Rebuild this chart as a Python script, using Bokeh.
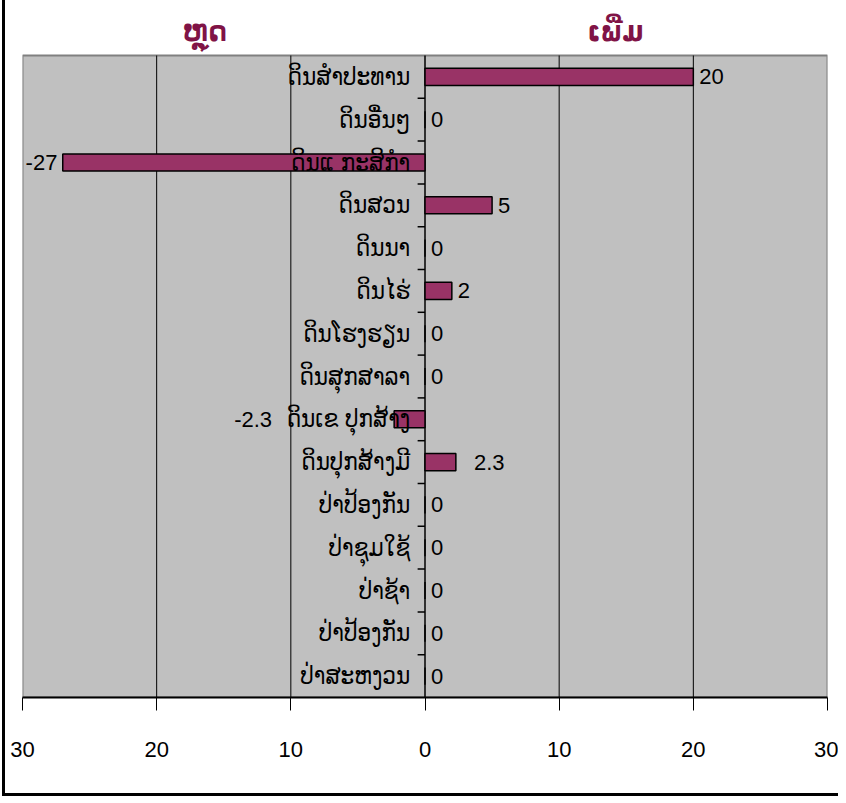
from bokeh.plotting import figure
from bokeh.models import Range1d, FixedTicker, ColumnDataSource
from bokeh.core.properties import value
from bokeh.embed import file_html
from bokeh.resources import INLINE

# ---- data ----
categories = ["ດິນສຳປະທານ", "ດິນອື່ນໆ", "ດິນແ ກະສິກຳ", "ດິນສວນ", "ດິນນາ", "ດິນໄຮ່",
              "ດິນໂຮງຮຽນ", "ດິນສຸກສາລາ", "ດິນເຂ ປຸກສ້າງ", "ດິນປຸກສ້າງມີ",
              "ປ່າປ້ອງກັນ", "ປ່າຊຸມໃຊ້", "ປ່າຊ້າ", "ປ່າປ້ອງກັນ", "ປ່າສະຫງວນ"]
values = [20, 0, -27, 5, 0, 2, 0, 0, -2.3, 2.3, 0, 0, 0, 0, 0]
value_labels = ["20", "0", "-27", "5", "0", "2", "0", "0", "-2.3", "2.3", "0", "0", "0", "0", "0"]
x_ticks = [-30, -20, -10, 0, 10, 20, 30]
x_tick_labels = ["30", "20", "10", "0", "10", "20", "30"]
title_left = "ຫຼຸດ"
title_right = "ເພີ່ມ"

n = len(categories)
ypos = [n - i for i in range(n)]  # first category at top
y_lo, y_hi = 0.5, n + 0.5
x_lo, x_hi = x_ticks[0], x_ticks[-1]

BAR = "#993366"
TITLE_COL = "#801346"
NUM_FONT = "Liberation Sans"
LAO_FONT = "DejaVu Sans Condensed"

FRAME_H = 697
ROW_PX = 642 / n
top = y_lo + FRAME_H / ROW_PX  # room above the plot area for the two headings

p = figure(width=836, height=796, output_backend="svg", toolbar_location=None,
           x_range=Range1d(x_lo, x_hi), y_range=Range1d(y_lo, top),
           min_border_left=17, min_border_right=14, min_border_top=0, min_border_bottom=99)
p.styles = {"margin-left": "2px", "border-left": "3px solid black",
            "border-bottom": "3px solid black"}

p.background_fill_color = "white"
p.border_fill_color = "white"
p.outline_line_color = None
p.yaxis.visible = False
p.grid.visible = False

# grey plot area
p.quad(left=[x_lo], right=[x_hi], bottom=[y_lo], top=[y_hi],
       fill_color="#C0C0C0", line_color="#808080", line_width=2)

# vertical gridlines
gx = [t for t in x_ticks if t not in (x_lo, x_hi, 0)]
p.segment(x0=gx, x1=gx, y0=[y_lo] * len(gx), y1=[y_hi] * len(gx),
          line_color="black", line_width=1)

ax = p.xaxis[0]
ax.ticker = FixedTicker(ticks=x_ticks)
ax.major_label_overrides = {t: l for t, l in zip(x_ticks, x_tick_labels)}
ax.axis_line_color = "black"
ax.axis_line_width = 2
ax.major_tick_line_color = "black"
ax.major_tick_out = 13
ax.major_tick_in = 0
ax.minor_tick_line_color = None
ax.major_label_standoff = 31
ax.major_label_text_font = NUM_FONT
ax.major_label_text_font_size = "22px"
ax.major_label_text_color = "black"

# category axis at zero with ticks between categories
p.segment(x0=[0], x1=[0], y0=[y_lo], y1=[y_hi], line_color="black", line_width=1.5)
bounds = [k + 0.5 for k in range(1, n)]
p.segment(x0=[-0.55] * len(bounds), x1=[0] * len(bounds), y0=bounds, y1=bounds,
          line_color="black", line_width=1.5)

src = ColumnDataSource(dict(y=ypos, v=values, cat=categories, lab=value_labels))
p.hbar(y="y", left=0, right="v", height=0.4, source=src,
       fill_color=BAR, line_color="black", line_width=1.5)

# category labels, right aligned left of zero
p.text(x=[-1.1] * n, y=ypos, text=categories, text_align="right", text_baseline="middle",
       text_font=value(LAO_FONT), text_font_size="24px", text_color="black")

# value labels
lx, ly, lt, la = [], [], [], []
for yv, v, t in zip(ypos, values, value_labels):
    if v < 0:
        lx.append(v - 0.4 if v < -5 else -11.4)
        la.append("right")
    else:
        lx.append(v + (3.65 - v if 2 < v < 3 else 0.45))
        la.append("left")
    ly.append(yv)
    lt.append(t)
p.text(x=lx, y=ly, text=lt, text_align=la, text_baseline="middle",
       text_font=value(NUM_FONT), text_font_size="22px", text_color="black")

# headings above plot area
ty = top - 31 / ROW_PX
p.text(x=[-16.4, 14.2], y=[ty, ty], text=[title_left, title_right],
       text_align="center", text_baseline="middle", text_color=TITLE_COL,
       text_font=value(LAO_FONT), text_font_size="28px", text_font_style="bold")

open("out.html", "w").write(file_html(p, INLINE))
